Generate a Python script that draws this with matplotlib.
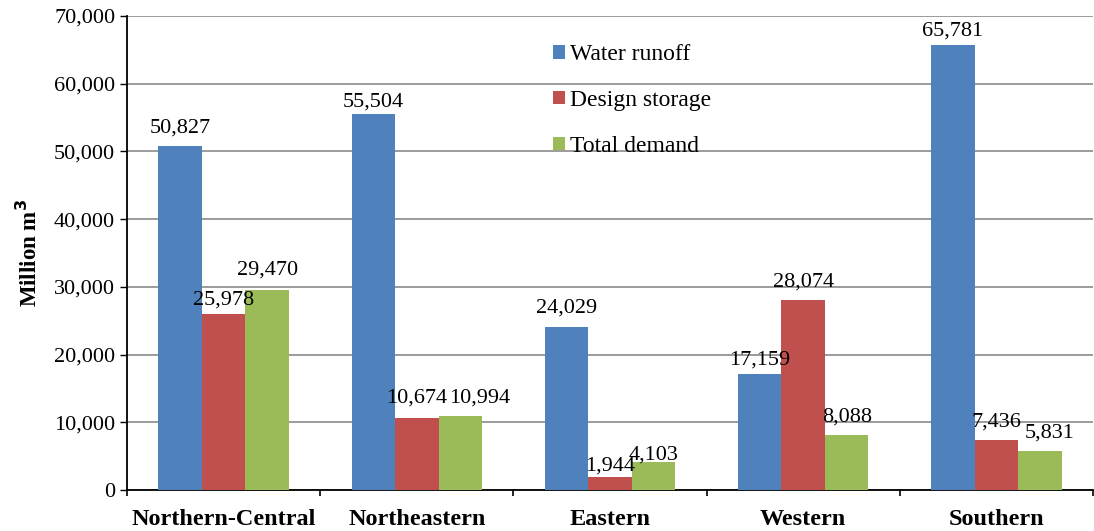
import numpy as np
import matplotlib.pyplot as plt
from matplotlib.ticker import FuncFormatter, FixedLocator

# Regional water balance (million m3)
regions = ["Northern-Central", "Northeastern", "Eastern", "Western", "Southern"]
water_runoff = [50827, 55504, 24029, 17159, 65781]
design_storage = [25978, 10674, 1944, 28074, 7436]
total_demand = [29470, 10994, 4103, 8088, 5831]

series_names = ["Water runoff", "Design storage", "Total demand"]
series_colors = ["#4F81BD", "#C0504D", "#9BBB59"]

# label nudges in points (dx, dy) for labels moved by hand
nudges = {
    (0, 1): (0, -3),
    (0, 2): (0, 2),
    (1, 0): (0, -4),
    (1, 1): (0, 1),
    (1, 2): (14, 0),
    (2, 0): (0, 1),
    (2, 1): (0, -5),
    (2, 2): (0, -8),
    (3, 0): (0, -3),
    (4, 0): (0, -3),
    (4, 2): (7, 0),
}

plt.rcParams["font.family"] = ["Liberation Serif", "DejaVu Serif"]

fig = plt.figure(figsize=(10.94, 5.31), dpi=100)
ax = fig.add_axes([127 / 1094, 1 - 490 / 531, (1093 - 127) / 1094, (490 - 16) / 531])

x = np.arange(len(regions))
width = 0.225
all_series = [water_runoff, design_storage, total_demand]

for i, (vals, name, col) in enumerate(zip(all_series, series_names, series_colors)):
    pos = x + (i - 1) * width
    ax.bar(pos, vals, width, color=col, label=name, zorder=3)
    for j, v in enumerate(vals):
        dx, dy = nudges.get((j, i), (0, 0))
        ax.annotate(f"{v:,}", (pos[j], v), xytext=(dx, 6 + dy),
                    textcoords="offset points", ha="center", va="bottom",
                    fontsize=16, zorder=4)

ax.set_xlim(-0.5, len(regions) - 0.5)
ax.set_ylim(0, 70000)
ax.set_yticks(np.arange(0, 70001, 10000))
ax.yaxis.set_major_formatter(FuncFormatter(lambda v, p: f"{int(v):,}"))
ax.tick_params(axis="y", labelsize=16, length=5, direction="out", width=1)

ax.set_xticks(x)
ax.set_xticklabels(regions, fontsize=17.5, fontweight="bold")
ax.tick_params(axis="x", length=0, pad=14)
ax.xaxis.set_minor_locator(FixedLocator(np.arange(-0.5, len(regions), 1.0)))
ax.tick_params(axis="x", which="minor", length=4.5, width=1.2, direction="out")

ax.grid(axis="y", color="#8a8a8a", linewidth=1.2, zorder=0)
ax.spines["top"].set_visible(False)
ax.spines["right"].set_visible(False)
ax.spines["left"].set_linewidth(1.3)
ax.spines["bottom"].set_linewidth(1.3)

ax.set_ylabel("Million m$^\\mathbf{3}$", fontsize=16.5, fontweight="bold", labelpad=9)

ax.legend(loc="upper left", bbox_to_anchor=(0.419, 0.985), frameon=False, fontsize=17,
          handlelength=0.5, handleheight=0.5, handletextpad=0.2, labelspacing=1.05)

fig.savefig("out.png", dpi=100)
